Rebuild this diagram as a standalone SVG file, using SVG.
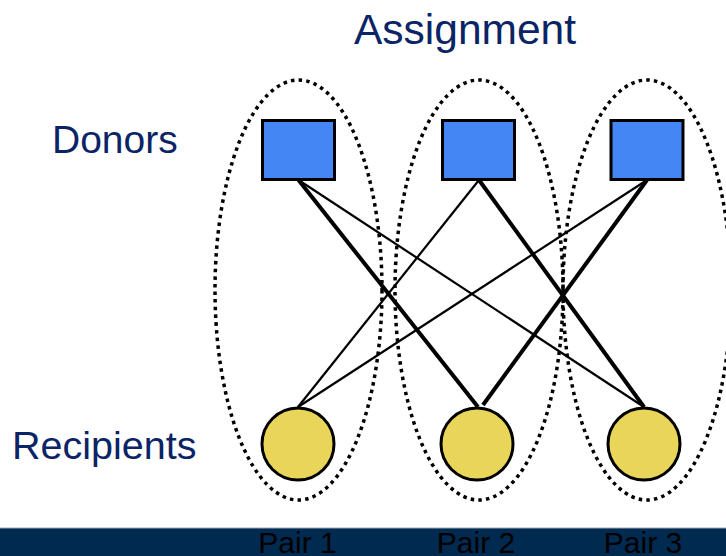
<svg xmlns="http://www.w3.org/2000/svg" width="726" height="556" viewBox="0 0 726 556">
<style>
.lbl{font-family:"Liberation Sans",Arial,sans-serif;fill:#0a2466}
.pair{font-family:"Liberation Sans",Arial,sans-serif;fill:#000;font-size:30px;text-anchor:middle}
.grp{fill:none;stroke:#000;stroke-width:3.5;stroke-dasharray:3.5 4.2}
.donor{fill:#4386f4;stroke:#000;stroke-width:3}
.recip{fill:#e8d55a;stroke:#000;stroke-width:3}
.thin{stroke:#000;stroke-width:2.2;fill:none}
.thick{stroke:#000;stroke-width:4;fill:none}
</style>
<rect width="726" height="556" fill="#fff"/>
<text class="lbl" x="354" y="44" font-size="42.5">Assignment</text>
<text class="lbl" x="52" y="153" font-size="39">Donors</text>
<text class="lbl" x="12" y="459" font-size="39.5">Recipients</text>
<g id="groups">
<ellipse class="grp" cx="298.5" cy="290" rx="83.5" ry="210"/>
<ellipse class="grp" cx="479" cy="290" rx="84" ry="210"/>
<ellipse class="grp" cx="647" cy="290" rx="84" ry="210"/>
</g>
<g id="connectors">
<line class="thick" x1="298.5" y1="180" x2="478" y2="407"/>
<line class="thin" x1="298.5" y1="180" x2="644" y2="407"/>
<line class="thin" x1="479" y1="180" x2="298" y2="407"/>
<line class="thick" x1="479" y1="180" x2="644" y2="407"/>
<line class="thin" x1="647" y1="180" x2="298" y2="407"/>
<line class="thick" x1="647" y1="180" x2="483" y2="405"/>
</g>
<g id="donor1"><rect class="donor" x="262.5" y="120.5" width="72" height="59"/></g>
<g id="donor2"><rect class="donor" x="442.5" y="120.5" width="72" height="59"/></g>
<g id="donor3"><rect class="donor" x="611" y="120.5" width="72" height="59"/></g>
<g id="recipient1"><circle class="recip" cx="298" cy="444" r="36"/></g>
<g id="recipient2"><circle class="recip" cx="477" cy="444" r="36"/></g>
<g id="recipient3"><circle class="recip" cx="644" cy="444" r="36"/></g>
<g id="bar">
<rect x="0" y="528" width="726" height="28" fill="#012a50"/>
<line x1="0" y1="528" x2="726" y2="528" stroke="#9aa8b8" stroke-width="1"/>
<text class="pair" x="297.5" y="553">Pair 1</text>
<text class="pair" x="476" y="553">Pair 2</text>
<text class="pair" x="643" y="553">Pair 3</text>
</g>
</svg>
